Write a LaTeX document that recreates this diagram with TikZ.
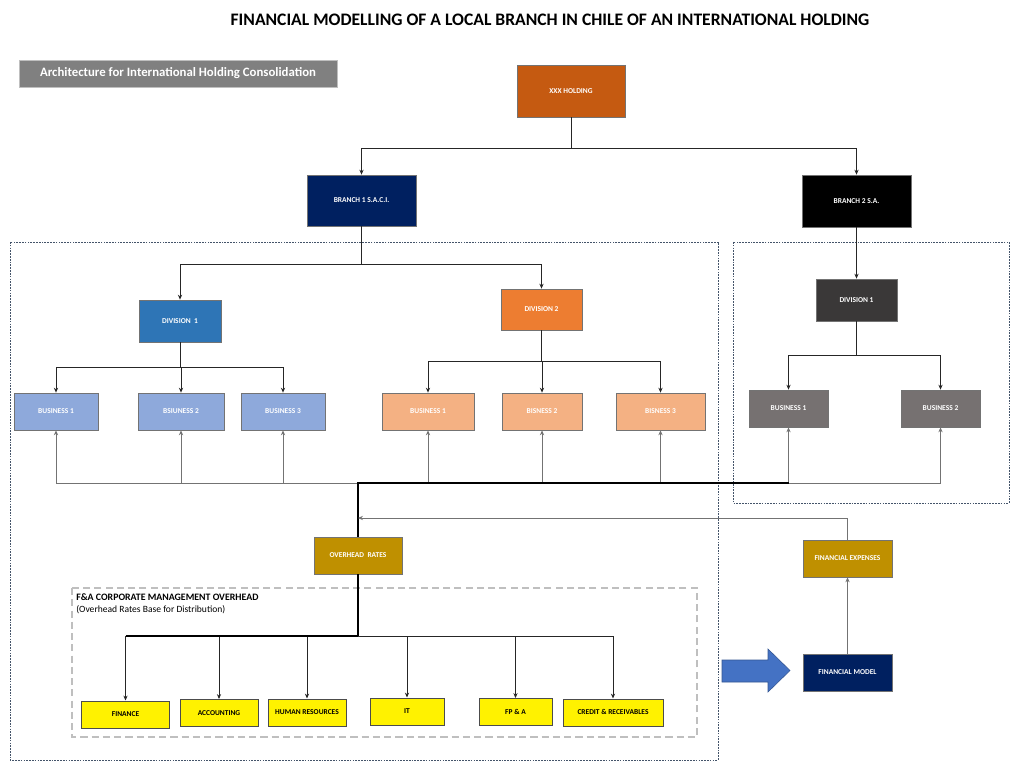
\documentclass[tikz,border=0pt]{standalone}
\usepackage{fontspec}
\setmainfont{Carlito}
\usepackage{tikz}
\usetikzlibrary{arrows.meta}

\definecolor{holdorange}{HTML}{C55A11}
\definecolor{navy}{HTML}{002060}
\definecolor{divblue}{HTML}{2E75B6}
\definecolor{divorange}{HTML}{ED7D31}
\definecolor{bizblue}{HTML}{8EA9DB}
\definecolor{bizorange}{HTML}{F4B183}
\definecolor{rdivgray}{HTML}{3A3838}
\definecolor{rbizgray}{HTML}{767171}
\definecolor{gold}{HTML}{BF9000}
\definecolor{headgray}{HTML}{808080}
\definecolor{bigblue}{HTML}{4472C4}
\definecolor{framegray}{HTML}{44546A}

\tikzset{
    box/.style={draw=black!55, line width=0.5pt, inner sep=1pt, align=center,
        text=white, font=\fontsize{5.3}{6}\selectfont\bfseries},
    ybox/.style={box, fill=yellow, text=black, draw=black!70, line width=0.7pt,
        minimum height=0.675cm, text height=3.6pt, text depth=0.4pt},
    arr/.style={-{Stealth[length=3.5pt,width=3pt]}, line width=0.6pt, black!85},
    uparr/.style={arr, black!55},
    heavy/.style={line width=1.3pt, black},
    frame/.style={draw=framegray, line width=0.5pt, dash pattern=on 1.2pt off 0.8pt},
    fabox/.style={draw=black!25, line width=1.2pt, dash pattern=on 5pt off 3pt}
}

\begin{document}
\begin{tikzpicture}[x=0.025cm, y=-0.025cm]
    \useasboundingbox (0,0) rectangle (1024,766);
    \fill[white] (0,0) rectangle (1024,766);

    \node[font=\fontsize{12.5}{14}\selectfont\bfseries] (title) at (550,20)
        {FINANCIAL MODELLING OF A LOCAL BRANCH IN CHILE OF AN INTERNATIONAL HOLDING};
    \node[fill=headgray, draw=black!25, text=white, inner sep=0,
        minimum width=7.95cm, minimum height=0.675cm,
        font=\fontsize{9.1}{10}\selectfont\bfseries] (arch) at (178,73.5)
        {Architecture for International Holding Consolidation};

    \draw[frame] (10,242) rectangle (718,760);
    \draw[frame] (733,242) rectangle (1009,503);
    \draw[fabox] (72,588) rectangle (697,737);

    \node[box, fill=holdorange, minimum width=2.7cm, minimum height=1.3cm] (hold) at (571,91) {XXX HOLDING};
    \node[box, fill=navy, minimum width=2.725cm, minimum height=1.275cm] (br1) at (361.5,200.5) {BRANCH 1 S.A.C.I.};
    \node[box, fill=black, minimum width=2.725cm, minimum height=1.3cm] (br2) at (856.5,201) {BRANCH 2 S.A.};

    \node[box, fill=divblue, minimum width=2.05cm, minimum height=1.05cm] (div1) at (180,321) {DIVISION\ \ 1};
    \node[box, fill=divorange, minimum width=2.025cm, minimum height=1.025cm] (div2) at (541.5,309.5) {DIVISION 2};
    \node[box, fill=rdivgray, minimum width=2.025cm, minimum height=1.05cm] (rdiv) at (856.5,300) {DIVISION 1};

    \node[box, fill=bizblue, minimum width=2.1cm, minimum height=0.925cm] (bb1) at (56,411.5) {BUSINESS 1};
    \node[box, fill=bizblue, minimum width=2.15cm, minimum height=0.925cm] (bb2) at (181,411.5) {BSIUNESS 2};
    \node[box, fill=bizblue, minimum width=2.1cm, minimum height=0.925cm] (bb3) at (283,411.5) {BUSINESS 3};
    \node[box, fill=bizorange, minimum width=2.3cm, minimum height=0.925cm] (ob1) at (428,411.5) {BUSINESS 1};
    \node[box, fill=bizorange, minimum width=2.0cm, minimum height=0.925cm] (ob2) at (542,411.5) {BISNESS 2};
    \node[box, fill=bizorange, minimum width=2.225cm, minimum height=0.925cm] (ob3) at (660.5,411.5) {BISNESS 3};
    \node[box, fill=rbizgray, minimum width=1.975cm, minimum height=0.925cm] (rb1) at (788.5,408.5) {BUSINESS 1};
    \node[box, fill=rbizgray, minimum width=1.975cm, minimum height=0.925cm] (rb2) at (940.5,408.5) {BUSINESS 2};

    \node[box, fill=gold, minimum width=2.2cm, minimum height=0.925cm] (ovh) at (358,555.5) {OVERHEAD\ \ RATES};
    \node[box, fill=gold, minimum width=2.225cm, minimum height=0.925cm] (fe) at (847.5,558.5) {FINANCIAL EXPENSES};
    \node[box, fill=navy, minimum width=2.225cm, minimum height=0.925cm] (fm) at (847.5,672.5) {FINANCIAL MODEL};

    \node[anchor=west, inner sep=0, font=\fontsize{7}{8}\selectfont\bfseries] (fa1) at (76,597) {F\&A CORPORATE MANAGEMENT OVERHEAD};
    \node[anchor=west, inner sep=0, font=\fontsize{6.8}{8}\selectfont] (fa2) at (76,610) {(Overhead Rates Base for Distribution)};

    \node[ybox, minimum width=2.175cm] (fin) at (125.5,714.5) {FINANCE};
    \node[ybox, minimum width=1.95cm] (acc) at (219,713) {ACCOUNTING};
    \node[ybox, minimum width=1.95cm] (hr) at (307,712.5) {HUMAN RESOURCES};
    \node[ybox, minimum width=1.85cm] (it) at (407,711.5) {IT};
    \node[ybox, minimum width=1.825cm] (fpa) at (515.5,712) {FP \& A};
    \node[ybox, minimum width=2.5cm] (cr) at (613,712.5) {CREDIT \& RECEIVABLES};

    \draw[arr] (hold.south) -- ++(0,31) -| (br1.north);
    \draw[arr] (hold.south) ++(0,31) -| (br2.north);
    \draw[arr] (br1.south) -- ++(0,38) -| (div1.north);
    \draw[arr] (br1.south) ++(0,38) -| (div2.north);
    \draw[arr] (br2.south) -- (rdiv.north);
    \foreach \b in {bb1,bb2,bb3} \draw[arr] (div1.south) -- ++(0,25) -| (\b.north);
    \foreach \b in {ob1,ob2,ob3} \draw[arr] (div2.south) -- ++(0,31) -| (\b.north);
    \foreach \b in {rb1,rb2} \draw[arr] (rdiv.south) -- ++(0,34) -| (\b.north);

    \coordinate (hub) at (358,483);
    \foreach \b in {bb1,bb2,bb3,ob1,ob2,ob3,rb1,rb2} \draw[uparr] (hub) -| (\b.south);
    \draw[heavy] (rb1.south |- hub) -- (hub) -- (ovh.north);

    \coordinate (fejoin) at (358,518);
    \draw[uparr] (fe.north) |- (fejoin);
    \draw[uparr] (fm.north) -- (fe.south);

    \coordinate (split) at (358,636);
    \draw[heavy] (ovh.south) -- (split);
    \foreach \y in {fin,acc,hr,it,fpa,cr} \draw[arr] (split) -| (\y.north);
    \draw[line width=1pt] (fin.north |- split) -- (split);

    \fill[bigblue, draw=bigblue!75!black, line width=0.4pt] (722,660) -- (768,660) -- (768,649)
        -- (790,670.5) -- (768,692) -- (768,682) -- (722,682) -- cycle;
\end{tikzpicture}
\end{document}
